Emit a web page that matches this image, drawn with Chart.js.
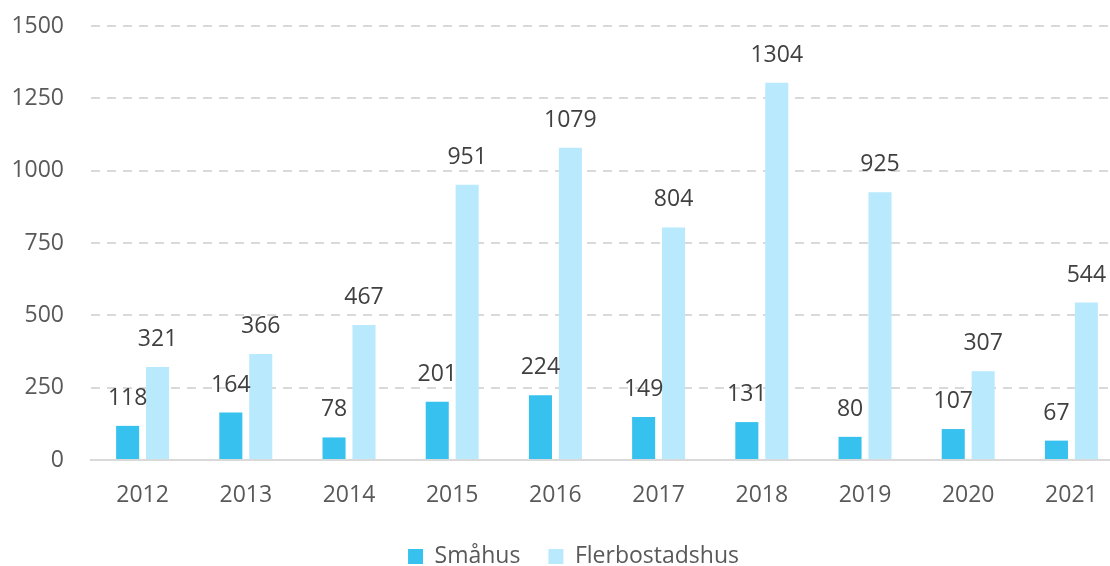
<!DOCTYPE html>
<html>
<head>
<meta charset="utf-8">
<script src="https://cdn.jsdelivr.net/npm/chart.js@4/dist/chart.umd.min.js"></script>
<style>
  html, body { margin: 0; padding: 0; background: #fff; overflow: hidden; }
  #wrap { width: 1110px; height: 566px; overflow: hidden; }
  canvas { display: block; }
</style>
</head>
<body>
<div id="wrap"><canvas id="c" width="1150" height="578"></canvas></div>
<script>
// values
const years = ['2012', '2013', '2014', '2015', '2016', '2017', '2018', '2019', '2020', '2021'];
const smahus = [118, 164, 78, 201, 224, 149, 131, 80, 107, 67];
const flerbostadshus = [321, 366, 467, 951, 1079, 804, 1304, 925, 307, 544];
const yTicks = [0, 250, 500, 750, 1000, 1250, 1500];

const FONT = "'Open Sans', 'Noto Sans', sans-serif";
const TXT = '#595959';

// numbers above the bars
const barLabels = {
  id: 'barLabels',
  afterDatasetsDraw(chart) {
    const ctx = chart.ctx;
    ctx.save();
    ctx.font = '23px ' + FONT;
    ctx.fillStyle = '#404040';
    ctx.textAlign = 'center';
    ctx.textBaseline = 'alphabetic';
    chart.data.datasets.forEach((ds, i) => {
      chart.getDatasetMeta(i).data.forEach((bar, j) => {
        ctx.fillText(String(ds.data[j]), bar.x, bar.y - 21);
      });
    });
    ctx.restore();
  }
};

// nudge the legend a bit to the right, as in the original
const legendShift = {
  id: 'legendShift',
  afterLayout(chart) {
    if (chart.legend) { chart.legend.left += 12; chart.legend.right += 12; }
  }
};

new Chart(document.getElementById('c'), {
  type: 'bar',
  data: {
    labels: years,
    datasets: [
      { label: 'Småhus', data: smahus, backgroundColor: '#37c1ee' },
      { label: 'Flerbostadshus', data: flerbostadshus, backgroundColor: '#b9e9fd' },
    ],
  },
  plugins: [barLabels, legendShift],
  options: {
    responsive: false,
    animation: false,
    categoryPercentage: 0.58,
    barPercentage: 0.77,
    layout: { padding: { top: 26, right: 27, left: 0, bottom: 0 } },
    plugins: {
      tooltip: { enabled: false },
      legend: {
        position: 'bottom',
        labels: {
          color: TXT, boxWidth: 15, boxHeight: 15, padding: 28,
          font: { family: FONT, size: 23 },
        },
      },
    },
    scales: {
      x: {
        grid: { display: false, drawTicks: false },
        border: { display: true, color: '#d9d9d9', width: 2 },
        ticks: { color: TXT, padding: 22, font: { family: FONT, size: 23 } },
        afterFit: (s) => { s.height = 57; },
      },
      y: {
        min: 0, max: 1500,
        afterBuildTicks: (s) => { s.ticks = yTicks.map(v => ({ value: v })); },
        grid: { color: '#d9d9d9', lineWidth: 2, drawTicks: true, tickLength: 27, tickColor: 'rgba(0,0,0,0)' },
        border: { display: false, dash: [9, 7] },
        ticks: {
          color: TXT, padding: 0, font: { family: FONT, size: 23 },
          callback: (v) => String(v),
        },
        afterFit: (s) => { s.width = 91; },
      },
    },
  },
});
</script>
</body>
</html>
